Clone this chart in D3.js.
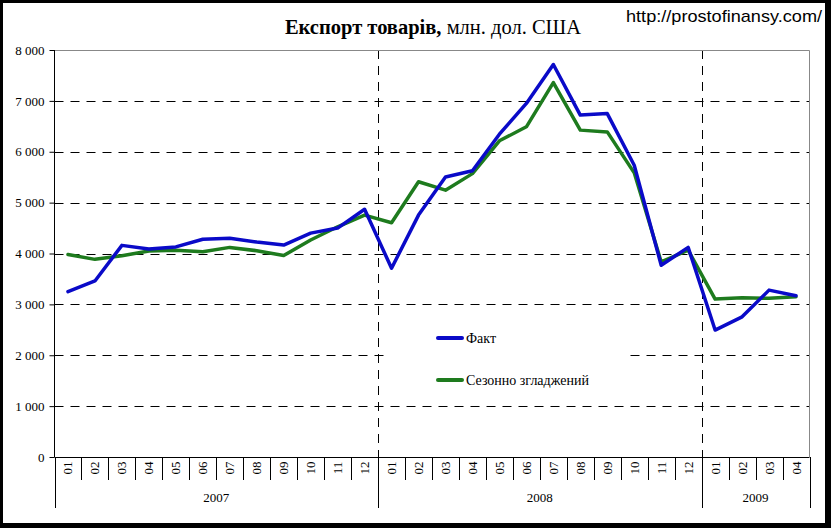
<!DOCTYPE html>
<html><head><meta charset="utf-8">
<script src="https://cdn.jsdelivr.net/npm/d3@7"></script>
<style>body{margin:0;background:#fff}svg{display:block}
.sf{font-family:"Liberation Serif","Times New Roman","DejaVu Serif",serif}
.ss{font-family:"Liberation Sans",Arial,sans-serif}
</style>
</head><body>
<script>
const months = ["01","02","03","04","05","06","07","08","09","10","11","12",
                "01","02","03","04","05","06","07","08","09","10","11","12",
                "01","02","03","04"];
const years = ["2007","2008","2009"];
const yearMonthCounts = [12,12,4];
const fact = [3250,3460,4160,4090,4130,4280,4300,4225,4165,4400,4500,4870,
              3710,4755,5505,5625,6345,6950,7715,6720,6750,5735,3770,4120,
              2495,2755,3280,3170];
const smoothed = [3980,3885,3955,4050,4065,4035,4120,4055,3960,4265,4525,4755,
                  4605,5410,5245,5570,6215,6490,7360,6425,6390,5585,3835,4065,
                  3105,3130,3120,3150];
const yTicks = [0,1000,2000,3000,4000,5000,6000,7000,8000];
const seriesNames = ["Факт","Сезонно згладжений"];

const W=831,H=528;
const svg=d3.select("body").append("svg").attr("width",W).attr("height",H);
const pL=54.5,pR=809.5,pT=50,pB=457;
const idx=d3.range(months.length);
const x=d3.scaleBand().domain(idx).range([pL,pR]);
const y=d3.scaleLinear().domain([0,8000]).range([pB,pT]);
const fmt=v=>d3.format(",")(v).replace(/,/g," ");

svg.append("rect").attr("x",0).attr("y",0).attr("width",W).attr("height",H).attr("fill","#fff");

// title
const t=svg.append("text").attr("class","sf").attr("x",433).attr("y",34).attr("text-anchor","middle")
  .style("font-size","20.5px");
t.append("tspan").attr("font-weight","bold").text("Експорт товарів,");
t.append("tspan").text(" млн. дол. США");
svg.append("text").attr("class","ss").attr("x",822).attr("y",22).attr("text-anchor","end")
  .style("font-size","17px")
  .attr("textLength",196).attr("lengthAdjust","spacingAndGlyphs")
  .text("http://prostofinansy.com/");

// grid
const g=svg.append("g");
g.selectAll("line.h").data(yTicks.filter(v=>v>0&&v<8000)).join("line")
  .attr("x1",pL).attr("x2",pR).attr("y1",d=>Math.round(y(d))+0.5).attr("y2",d=>Math.round(y(d))+0.5)
  .attr("stroke","#000").attr("stroke-width",1).attr("stroke-dasharray","9,7");
let cum=0; const bounds=[];
yearMonthCounts.forEach(n=>{bounds.push(cum);cum+=n;});
const sepIdx=bounds.slice(1);
g.selectAll("line.v").data(sepIdx).join("line")
  .attr("x1",d=>Math.round(x(d))+0.5).attr("x2",d=>Math.round(x(d))+0.5)
  .attr("y1",pT).attr("y2",pB)
  .attr("stroke","#000").attr("stroke-width",1).attr("stroke-dasharray","9,7");
svg.append("path").attr("d",`M${pL},${pT+0.5}H${pR}V${pB}`)
  .attr("fill","none").attr("stroke","#888").attr("stroke-width",1);

// legend background
svg.append("rect").attr("x",386).attr("y",318).attr("width",238).attr("height",78).attr("fill","#fff");

// y axis
const ya=svg.append("g").attr("transform",`translate(${pL},0)`)
  .call(d3.axisLeft(y).tickValues(yTicks).tickSize(5).tickPadding(5).tickFormat(fmt));
ya.attr("font-family",null).attr("font-size",null);
ya.selectAll("text").attr("class","sf").style("font-size","13px").attr("fill","#000");
ya.selectAll("line,path").attr("stroke","#000");
ya.select(".domain").attr("d",`M0,${pT}V${pB}`);

// x axis
svg.append("line").attr("x1",pL).attr("x2",pR).attr("y1",pB+0.5).attr("y2",pB+0.5).attr("stroke","#000");
const sepAll=d3.range(months.length+1);
svg.selectAll("line.xt").data(sepAll).join("line")
  .attr("x1",d=>Math.round(d<months.length?x(d):pR)+0.5)
  .attr("x2",d=>Math.round(d<months.length?x(d):pR)+0.5)
  .attr("y1",pB).attr("y2",d=>(d===0||d===months.length||sepIdx.includes(d))?508:480)
  .attr("stroke","#000");
svg.selectAll("text.m").data(idx).join("text").attr("class","sf")
  .attr("transform",d=>`translate(${x(d)+x.bandwidth()/2+4.5},468) rotate(-90)`)
  .attr("text-anchor","middle").style("font-size","13px")
  .text(d=>months[d]);
svg.selectAll("text.yr").data(years).join("text").attr("class","sf")
  .attr("x",(d,i)=>(x(bounds[i])+(i+1<bounds.length?x(bounds[i+1]):pR))/2)
  .attr("y",502).attr("text-anchor","middle").style("font-size","13px")
  .text(d=>d);

// lines
const colors=["#0a0ac8","#1e7b1e"];
const line=d3.line().x((d,i)=>x(i)+x.bandwidth()/2).y(d=>y(d));
[smoothed,fact].forEach((s,k)=>{
  svg.append("path").datum(s).attr("d",line).attr("fill","none")
    .attr("stroke",colors[1-k]).attr("stroke-width",3.5).attr("stroke-linejoin","round").attr("stroke-linecap","round");
});

// legend
const lg=svg.append("g");
[338,380].forEach((ly,i)=>{
  lg.append("line").attr("x1",438).attr("x2",462).attr("y1",ly).attr("y2",ly)
    .attr("stroke",colors[i]).attr("stroke-width",4).attr("stroke-linecap","round");
  lg.append("text").attr("class","sf").attr("x",466).attr("y",ly+5).style("font-size","14px")
    .text(seriesNames[i]);
});

// outer black frame
svg.append("path").attr("fill","#000").attr("fill-rule","evenodd")
  .attr("d",`M0,0H${W}V${H}H0Z M3,3V523H825V3Z`);
</script>
</body></html>
